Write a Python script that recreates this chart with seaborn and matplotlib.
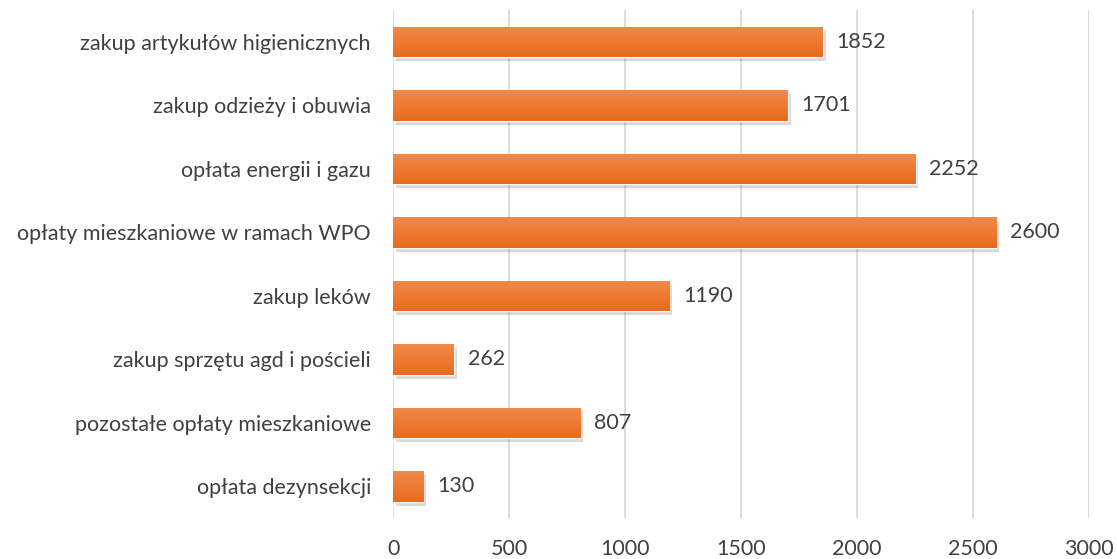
import matplotlib
matplotlib.use('Agg')
import matplotlib.pyplot as plt
import matplotlib.patheffects as pe
from matplotlib.colors import LinearSegmentedColormap
import seaborn as sns
import pandas as pd
import numpy as np

# ── Data ───────────────────────────────────────────────────────────────────────
categories = [
    'zakup artykułów higienicznych',
    'zakup odzieży i obuwia',
    'opłata energii i gazu',
    'opłaty mieszkaniowe w ramach WPO',
    'zakup leków',
    'zakup sprzętu agd i pościeli',
    'pozostałe opłaty mieszkaniowe',
    'opłata dezynsekcji',
]
values = [1852, 1701, 2252, 2600, 1190, 262, 807, 130]
x_ticks = [0, 500, 1000, 1500, 2000, 2500, 3000]

df = pd.DataFrame({'kategoria': categories, 'kwota': values})

# ── Plot ───────────────────────────────────────────────────────────────────────
sns.set_style('white')
plt.rcParams['font.family'] = ['Lato', 'DejaVu Sans']
text_col = '#404040'
fs = 15.5

fig = plt.figure(figsize=(11.17, 5.59), dpi=100)
ax = fig.add_axes([0.352, 0.073, 0.623, 0.909])

sns.barplot(data=df, x='kwota', y='kategoria', orient='h', color='#EE7A30',
            width=0.48, saturation=1, ax=ax, zorder=3)

# soft shadow + vertical gradient on each bar (lighter top, darker bottom)
grad_cmap = LinearSegmentedColormap.from_list('bar', ['#F08A4B', '#EE7A30', '#E56B1F'])
grad = np.linspace(0, 1, 64).reshape(-1, 1)
for bar in ax.patches:
    bar.set_path_effects([pe.SimplePatchShadow(offset=(2, -3), alpha=0.2,
                                               shadow_rgbFace='#444444'),
                          pe.Normal()])
    x0, y0 = bar.get_x(), bar.get_y()
    w, h = bar.get_width(), bar.get_height()
    im = ax.imshow(grad, cmap=grad_cmap, aspect='auto', zorder=4,
                   extent=(x0, x0 + w, y0 + h, y0), origin='upper')
    im.set_clip_path(bar)

for i, v in enumerate(values):
    ax.text(v + 60, i, str(v), va='center', ha='left', fontsize=fs, color=text_col)

ax.set_xlim(0, 3000)
ax.set_ylim(len(categories) - 0.5, -0.5)
ax.set_xticks(x_ticks)
ax.set_xticklabels([str(t) for t in x_ticks])
ax.xaxis.grid(True, color='#D9D9D9', linewidth=1.3, zorder=0)
ax.set_axisbelow(True)
for s in ax.spines.values():
    s.set_visible(False)
ax.tick_params(axis='both', length=0, labelsize=fs, colors=text_col)
ax.tick_params(axis='y', pad=16)
ax.tick_params(axis='x', pad=15)
ax.set_xlabel('')
ax.set_ylabel('')

plt.savefig('out.png', dpi=100)
plt.close()
